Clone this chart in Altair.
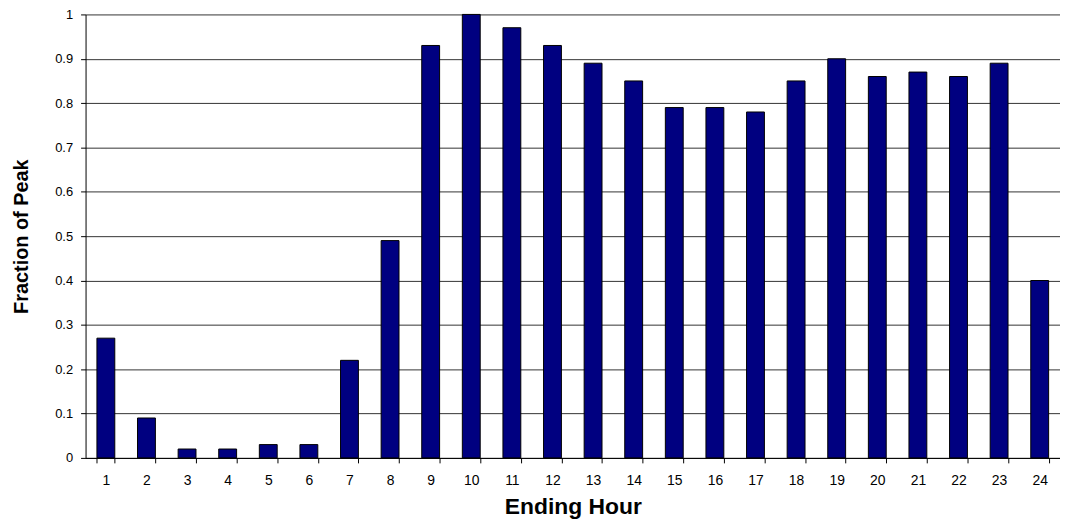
import altair as alt
import pandas as pd

hours = [str(h) for h in range(1, 25)]
fraction = [0.27, 0.09, 0.02, 0.02, 0.03, 0.03, 0.22, 0.49, 0.93, 1.00, 0.97, 0.93,
            0.89, 0.85, 0.79, 0.79, 0.78, 0.85, 0.90, 0.86, 0.87, 0.86, 0.89, 0.40]
y_ticks = [0, 0.1, 0.2, 0.3, 0.4, 0.5, 0.6, 0.7, 0.8, 0.9, 1.0]

df = pd.DataFrame({"hour": hours, "fraction": fraction})

chart = alt.Chart(df).mark_bar(
    color="#000080", stroke="#000000", strokeWidth=1
).encode(
    x=alt.X(
        "hour:N",
        sort=hours,
        scale=alt.Scale(paddingInner=0.56, paddingOuter=0.28),
        axis=alt.Axis(
            title="Ending Hour",
            labelAngle=0,
            labelFont="Liberation Sans",
            labelFontSize=14,
            labelColor="#000000",
            labelPadding=11,
            tickBand="extent",
            tickSize=5,
            tickColor="#000000",
            domainColor="#000000",
            grid=False,
            titleFont="Liberation Sans",
            titleFontSize=23,
            titleFontWeight="bold",
            titleColor="#000000",
            titleBaseline="alphabetic",
            titleY=56,
        ),
    ),
    y=alt.Y(
        "fraction:Q",
        scale=alt.Scale(domain=[0, 1], nice=False),
        axis=alt.Axis(
            title="Fraction of Peak",
            values=y_ticks,
            format=".1~f",
            labelFont="Liberation Sans",
            labelFontSize=13,
            labelColor="#000000",
            labelPadding=8,
            tickSize=5,
            tickColor="#000000",
            domainColor="#000000",
            grid=True,
            gridColor="#333333",
            gridWidth=1,
            titleFont="Liberation Sans",
            titleFontSize=20,
            titleFontWeight="bold",
            titleColor="#000000",
            titleBaseline="alphabetic",
            titleX=-58,
            titleY=223,
        ),
    ),
).properties(
    width=980,
    height=446,
    autosize=alt.AutoSizeParams(type="none"),
    padding={"left": 78, "top": 5, "right": 0, "bottom": 62},
    background="#ffffff",
).configure_view(stroke=None)

chart.save("out.html", embed_options={"renderer": "svg", "actions": False})
